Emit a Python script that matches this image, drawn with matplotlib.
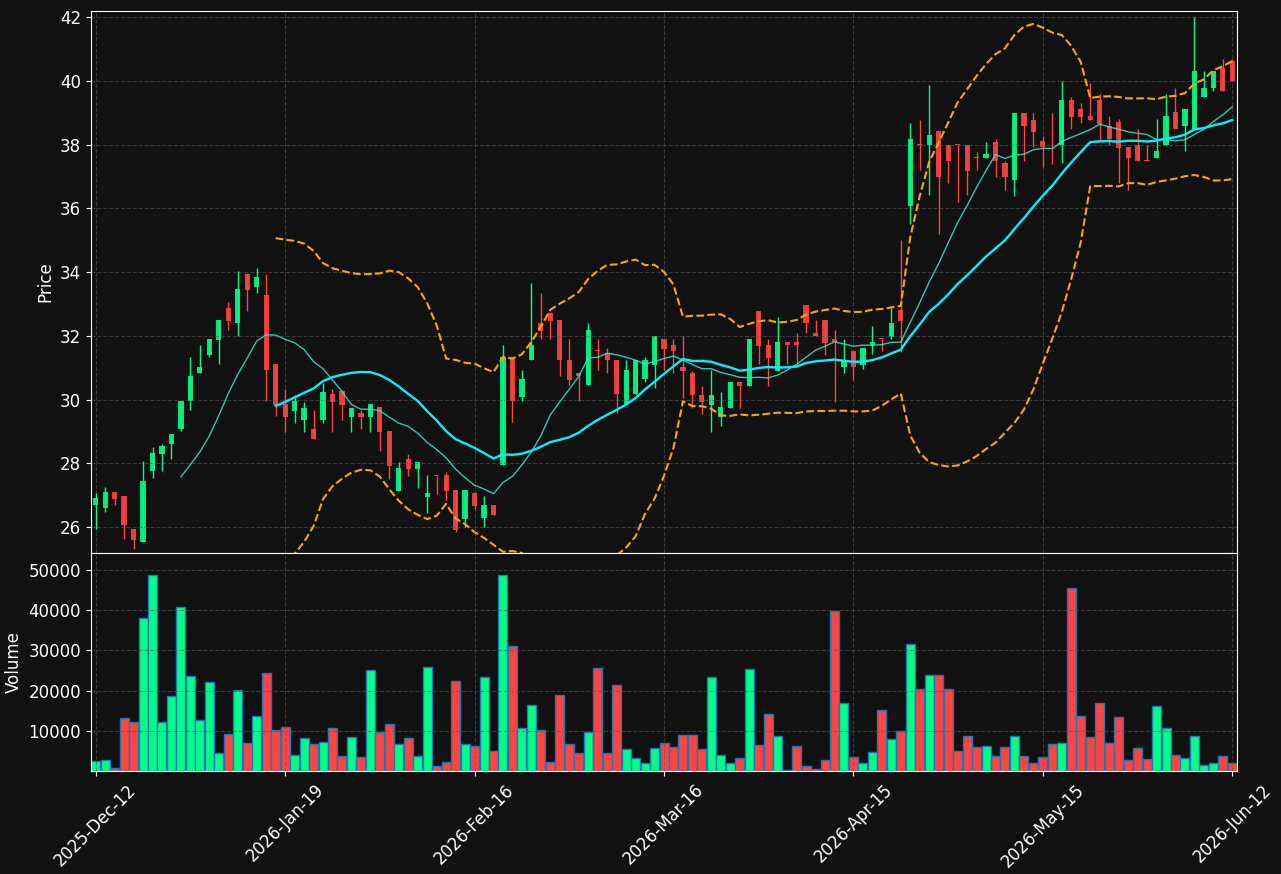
import matplotlib
matplotlib.use("Agg")
import matplotlib.pyplot as plt
import numpy as np
import pandas as pd

# OHLC, one entry per trading day
opens = [26.69, 26.60, 27.09, 26.99, 25.93, 25.53, 27.75, 28.31, 28.60, 29.09,
         29.95, 30.82, 31.41, 31.88, 32.88, 32.39, 33.95, 33.54, 33.27, 31.13,
         29.85, 29.64, 29.36, 29.09, 29.36, 30.17, 30.26, 29.46, 29.57, 29.46,
         29.76, 29.01, 27.14, 28.13, 27.83, 26.95, 27.62, 27.63, 27.15, 26.26,
         27.07, 26.28, 26.71, 27.94, 31.35, 30.07, 31.23, 32.41, 32.72, 32.51,
         31.25, 30.84, 30.45, 31.55, 31.46, 31.25, 29.86, 30.17, 30.65, 31.10,
         31.90, 31.71, 31.01, 30.82, 30.16, 29.83, 29.45, 29.74, 30.54, 30.43,
         32.79, 31.72, 30.91, 31.81, 31.81, 32.98, 32.09, 32.49, 31.89, 31.01,
         31.54, 31.10, 31.71, 31.91, 31.97, 32.82, 36.08, 38.00, 38.00, 38.42,
         38.00, 38.00, 38.00, 37.60, 37.58, 38.09, 37.41, 36.90, 39.00, 38.78,
         38.10, 37.93, 37.98, 39.39, 39.11, 38.89, 39.39, 38.59, 38.70, 37.92,
         38.00, 37.50, 37.58, 37.98, 39.02, 38.59, 38.48, 39.50, 39.79, 40.39,
         40.62]
highs = [27.08, 27.26, 27.09, 26.99, 25.93, 28.06, 28.52, 28.61, 28.93, 29.97,
         31.34, 31.71, 31.91, 32.51, 33.06, 34.04, 33.95, 34.13, 33.94, 31.13,
         30.34, 30.14, 29.94, 29.66, 30.52, 30.34, 30.30, 29.75, 29.67, 29.85,
         29.76, 29.01, 28.03, 28.31, 28.04, 27.63, 27.62, 27.73, 27.15, 27.15,
         27.09, 26.98, 26.71, 31.71, 31.35, 30.94, 33.66, 33.34, 32.72, 32.51,
         31.90, 30.84, 32.40, 31.90, 31.62, 31.25, 31.25, 31.25, 31.34, 32.00,
         31.90, 31.89, 32.00, 30.91, 30.44, 30.93, 30.25, 30.55, 30.54, 31.91,
         32.79, 31.89, 32.59, 31.81, 32.08, 32.98, 32.49, 32.49, 32.19, 31.89,
         31.54, 31.63, 32.30, 31.91, 32.88, 35.01, 38.69, 38.78, 39.88, 38.42,
         38.00, 38.00, 38.00, 37.78, 38.09, 38.19, 37.49, 39.00, 39.00, 39.00,
         38.28, 39.00, 40.00, 39.50, 39.29, 39.92, 39.60, 38.89, 38.80, 37.92,
         38.50, 38.00, 38.79, 39.60, 39.79, 39.11, 42.00, 40.30, 40.30, 40.70,
         40.70]
lows = [25.93, 26.47, 26.69, 25.63, 25.30, 25.53, 27.54, 27.75, 28.14, 29.01,
        29.67, 30.82, 31.33, 31.12, 32.17, 31.99, 32.77, 33.33, 29.95, 29.48,
        28.99, 29.28, 29.00, 28.77, 29.28, 29.00, 29.36, 29.00, 29.08, 29.00,
        28.39, 27.52, 27.14, 27.61, 27.23, 26.44, 27.05, 26.85, 25.85, 25.99,
        26.56, 26.01, 26.38, 27.94, 29.29, 29.95, 31.23, 31.89, 31.89, 30.73,
        30.47, 29.95, 30.45, 30.93, 30.84, 29.58, 29.86, 30.17, 30.54, 30.37,
        30.94, 30.82, 30.06, 29.75, 29.56, 28.98, 29.17, 29.74, 29.75, 30.43,
        31.11, 30.44, 30.91, 31.11, 31.11, 32.08, 31.99, 31.40, 29.93, 30.82,
        30.63, 30.95, 31.42, 31.52, 31.91, 31.49, 35.50, 37.19, 36.42, 35.20,
        36.78, 36.19, 36.42, 37.19, 37.58, 36.99, 36.59, 36.40, 37.49, 37.91,
        37.30, 37.39, 37.41, 38.50, 38.69, 38.76, 38.13, 37.98, 36.78, 36.58,
        37.49, 37.49, 37.58, 37.98, 38.49, 37.81, 38.48, 39.50, 39.69, 39.69,
        40.00]
closes = [26.90, 27.09, 26.88, 26.08, 25.61, 27.46, 28.34, 28.53, 28.93, 29.97,
          30.75, 31.03, 31.91, 32.51, 32.48, 33.48, 33.45, 33.85, 30.92, 29.84,
          29.46, 29.95, 29.75, 28.77, 30.25, 29.93, 29.83, 29.75, 29.46, 29.85,
          28.99, 27.92, 27.85, 27.82, 28.04, 27.07, 27.60, 27.14, 25.91, 27.15,
          26.67, 26.71, 26.38, 31.35, 29.95, 30.66, 31.72, 32.16, 32.48, 31.23,
          30.63, 30.73, 32.19, 31.53, 31.23, 30.17, 30.94, 31.25, 31.25, 32.00,
          31.60, 31.51, 30.91, 30.15, 29.93, 30.16, 29.76, 30.55, 30.43, 31.91,
          31.69, 31.32, 31.81, 31.71, 31.71, 32.39, 31.99, 31.79, 31.81, 31.22,
          31.01, 31.63, 31.82, 31.89, 32.41, 32.48, 38.19, 37.98, 38.29, 36.99,
          37.49, 37.98, 37.18, 37.58, 37.69, 37.49, 36.99, 39.00, 38.59, 38.40,
          37.93, 37.91, 39.39, 38.87, 38.87, 38.76, 38.66, 38.16, 37.88, 37.58,
          37.49, 37.49, 37.79, 38.89, 38.49, 39.11, 40.30, 39.79, 40.30, 39.69,
          40.00]
volumes = [2560, 2810, 660, 13220, 12230, 38100, 48760, 12230, 18760, 40830,
           23720, 12810, 22230, 4380, 9090, 20250, 6860, 13800, 24460, 10080,
           11070, 3880, 8100, 6610, 7110, 10580, 3640, 8350, 3390, 25210,
           9590, 11570, 6610, 8100, 3640, 25950, 1160, 2150, 22480, 6610,
           6120, 23470, 4880, 48760, 31160, 10580, 16530, 10080, 2310, 19010,
           6610, 4380, 9590, 25700, 4380, 21490, 5370, 3140, 1900, 5620,
           6860, 5870, 8840, 8840, 5370, 23470, 3880, 1900, 3140, 25450,
           6360, 14300, 8600, 170, 6120, 1160, 410, 2640, 39830, 17020,
           3390, 1900, 4630, 15290, 7850, 9830, 31650, 20500, 23970, 23970,
           20500, 4880, 8600, 5870, 6120, 3640, 5870, 8600, 3640, 1900,
           3390, 6610, 6860, 45540, 13800, 8350, 17020, 6860, 13550, 2640,
           5620, 2890, 16280, 10580, 3880, 3140, 8600, 1400, 1900, 3640,
           1900]

tick_pos = [0, 20, 40, 60, 80, 100, 120]
tick_labels = ['2025-Dec-12', '2026-Jan-19', '2026-Feb-16', '2026-Mar-16',
               '2026-Apr-15', '2026-May-15', '2026-Jun-12']

df = pd.DataFrame({'open': opens, 'high': highs, 'low': lows,
                   'close': closes, 'volume': volumes})
x = np.arange(len(df))
sma10 = df['close'].rolling(10).mean()
sma20 = df['close'].rolling(20).mean()
std20 = df['close'].rolling(20).std()
upper = sma20 + 2 * std20
lower = sma20 - 2 * std20

up_col = '#00ff88'
dn_col = '#ff4444'
bg = '#111111'
up = df['close'] >= df['open']
colors = np.where(up, up_col, dn_col)

plt.rcParams['font.size'] = 12
fig = plt.figure(figsize=(12.81, 8.74), dpi=100, facecolor=bg)
ax = fig.add_axes([0.071, 0.3673, 0.8947, 0.6201])
axv = fig.add_axes([0.071, 0.1178, 0.8947, 0.2495], sharex=ax)

for a in (ax, axv):
    a.set_facecolor(bg)
    for s in a.spines.values():
        s.set_color('white')
    a.tick_params(colors='white', labelsize=12)
    a.grid(True, color='#555555', linestyle='--', linewidth=0.8, alpha=0.6)

# candles
ax.vlines(x, df['low'], df['high'], colors=colors, linewidth=1)
body = np.maximum((df['close'] - df['open']).abs(), 0.03)
ax.bar(x, body, bottom=np.minimum(df['open'], df['close']), width=0.55,
       color=colors, alpha=0.9)

ax.plot(x, sma10, color='#40e0d0', linewidth=1, alpha=0.85)
ax.plot(x, sma20, color='#00f0ff', linewidth=1.7)
ax.plot(x, upper, color='orange', linestyle='--', linewidth=1.5)
ax.plot(x, lower, color='orange', linestyle='--', linewidth=1.5)

ax.set_ylim(25.19, 42.19)
ax.set_yticks(np.arange(26, 43, 2))
ax.set_ylabel('Price', color='white')
plt.setp(ax.get_xticklabels(), visible=False)

axv.bar(x, df['volume'], width=0.95, color=colors, edgecolor='tab:blue', linewidth=1)
axv.set_ylim(0, 54200)
axv.set_yticks([10000, 20000, 30000, 40000, 50000])
axv.set_ylabel('Volume', color='white')
axv.set_xlim(-0.5, len(df) - 0.5)
axv.set_xticks(tick_pos)
axv.set_xticklabels(tick_labels, rotation=45)

fig.savefig('out.png', dpi=100, facecolor=bg)
